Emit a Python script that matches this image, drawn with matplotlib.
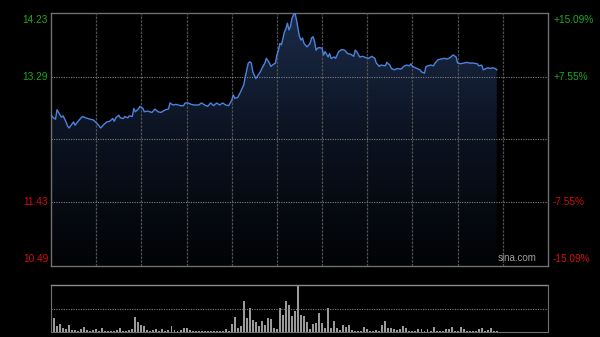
import numpy as np
import matplotlib.pyplot as plt
import matplotlib.transforms as mtransforms
from matplotlib.colors import LinearSegmentedColormap

# intraday price, minutes since 9:30 (HK session, 330 min incl. lunch slot)
minutes = [0, 1, 3, 4, 6, 7, 8, 10, 11, 12,
           14, 15, 16, 18, 20, 21, 23, 26, 28, 30,
           32, 33, 35, 37, 39, 41, 42, 43, 45, 46,
           48, 49, 51, 52, 54, 55, 56, 58, 59, 61,
           62, 64, 67, 69, 71, 73, 76, 78, 79, 81,
           83, 86, 88, 89, 91, 93, 95, 98, 100, 102,
           104, 106, 108, 110, 112, 114, 116, 118, 120, 121,
           122, 124, 126, 128, 129, 130, 131, 132, 133, 134,
           136, 139, 140, 142, 143, 145, 146, 147, 149, 150,
           151, 152, 153, 155, 156, 157, 158, 159, 160, 161,
           162, 163, 164, 165, 166, 167, 168, 170, 172, 173,
           174, 175, 176, 177, 178, 180, 181, 182, 184, 185,
           186, 188, 189, 191, 193, 195, 197, 199, 201, 202,
           203, 205, 207, 209, 211, 213, 215, 216, 218, 219,
           222, 223, 225, 226, 228, 230, 232, 233, 234, 236,
           238, 239, 240, 243, 245, 246, 248, 249, 252, 254,
           255, 257, 259, 261, 263, 265, 267, 269, 270, 272,
           274, 276, 278, 280, 283, 284, 286, 287, 289, 290,
           292, 293, 295, 296]
prices = [12.74, 12.69, 12.66, 12.80, 12.72, 12.69, 12.71, 12.62, 12.56, 12.53,
          12.59, 12.62, 12.57, 12.63, 12.68, 12.70, 12.68, 12.66, 12.65, 12.61,
          12.56, 12.53, 12.58, 12.62, 12.63, 12.67, 12.63, 12.68, 12.72, 12.68,
          12.67, 12.70, 12.68, 12.71, 12.70, 12.82, 12.77, 12.81, 12.85, 12.82,
          12.77, 12.78, 12.76, 12.81, 12.77, 12.76, 12.80, 12.81, 12.90, 12.87,
          12.88, 12.86, 12.86, 12.90, 12.90, 12.88, 12.87, 12.87, 12.90, 12.87,
          12.85, 12.90, 12.86, 12.90, 12.87, 12.90, 12.87, 12.86, 12.94, 13.02,
          12.97, 12.98, 13.07, 13.17, 13.29, 13.39, 13.49, 13.51, 13.49, 13.36,
          13.26, 13.36, 13.41, 13.49, 13.56, 13.49, 13.44, 13.46, 13.49, 13.61,
          13.68, 13.78, 13.76, 13.95, 14.00, 14.08, 13.98, 14.03, 14.15, 14.20,
          14.23, 14.13, 14.00, 13.88, 13.83, 13.86, 13.78, 13.73, 13.78, 13.86,
          13.88, 13.81, 13.68, 13.71, 13.72, 13.71, 13.61, 13.66, 13.58, 13.63,
          13.56, 13.58, 13.56, 13.66, 13.69, 13.68, 13.63, 13.62, 13.59, 13.68,
          13.66, 13.58, 13.59, 13.57, 13.56, 13.59, 13.56, 13.49, 13.44, 13.46,
          13.45, 13.50, 13.46, 13.41, 13.39, 13.41, 13.40, 13.41, 13.44, 13.46,
          13.45, 13.48, 13.44, 13.41, 13.39, 13.36, 13.34, 13.44, 13.46, 13.45,
          13.49, 13.54, 13.55, 13.56, 13.55, 13.57, 13.61, 13.58, 13.49, 13.48,
          13.49, 13.50, 13.49, 13.49, 13.48, 13.45, 13.46, 13.39, 13.41, 13.42,
          13.41, 13.42, 13.41, 13.39]

# volume per 2-minute slot (relative units, 100 = panel top)
volumes = [15, 30, 12, 17, 8, 6, 15, 5, 4, 3,
           6, 10, 5, 3, 4, 6, 3, 8, 3, 2,
           3, 2, 4, 8, 3, 2, 4, 6, 31, 22,
           15, 12, 4, 3, 5, 7, 3, 6, 3, 4,
           12, 5, 3, 4, 8, 8, 4, 3, 2, 3,
           2, 3, 2, 3, 2, 3, 2, 3, 6, 3,
           17, 31, 8, 12, 66, 30, 51, 26, 22, 12,
           24, 15, 30, 28, 8, 6, 51, 37, 65, 58,
           35, 44, 100, 37, 35, 22, 6, 17, 19, 40,
           19, 8, 51, 8, 24, 8, 5, 14, 10, 15,
           5, 3, 3, 3, 11, 7, 3, 3, 5, 3,
           15, 24, 8, 8, 7, 5, 7, 12, 8, 3,
           3, 3, 7, 7, 3, 7, 3, 10, 3, 3,
           3, 7, 7, 10, 3, 3, 10, 7, 3, 3,
           3, 3, 7, 8, 3, 5, 8, 3, 3]
vol_minutes = np.arange(len(volumes)) * 2

prev_close = 12.36
price_ticks = [14.23, 13.29, 12.36, 11.43, 10.49]
pct_labels = ['+15.09%', '+7.55%', '', '-7.55%', '-15.09%']

plt.rcParams['font.family'] = ['Liberation Sans', 'DejaVu Sans']
fig = plt.figure(figsize=(6, 3.37), dpi=100, facecolor='black')
ax = fig.add_axes([51/600, 71/337, 497/600, 253/337], facecolor='black')
axv = fig.add_axes([51/600, 5/337, 497/600, 47/337], facecolor='black')

ymin, ymax = price_ticks[-1], price_ticks[0]
ax.set_xlim(0, 330)
ax.set_ylim(ymin, ymax)

# gradient fill under the price line
fill = ax.fill_between(minutes, prices, ymin, color='none', lw=0)
cmap = LinearSegmentedColormap.from_list('bg', ['#020305', '#0b1220', '#1b2b48'])
grad = np.linspace(0, 1, 256).reshape(-1, 1)
img = ax.imshow(grad, cmap=cmap, origin='lower', aspect='auto',
                extent=[0, 330, ymin, ymax], zorder=1)
img.set_clip_path(fill.get_paths()[0], transform=ax.transData)

ax.plot(minutes, prices, color='#4d82dc', lw=1.0, zorder=4)

# grid
for t in range(30, 330, 30):
    ax.axvline(t, color='#505050', lw=0.9, ls=(0, (2, 1)), zorder=3)
for p in price_ticks[1:-1]:
    ax.axhline(p, color='#808080', lw=0.8, ls=(0, (1, 1.2)), zorder=3)

ax.set_xticks([])
ax.set_yticks([])
for s in ax.spines.values():
    s.set_color('#6e6e6e')
    s.set_linewidth(1)

# price / percent labels
trans = mtransforms.blended_transform_factory(ax.transAxes, ax.transData)
for i, (p, pl) in enumerate(zip(price_ticks, pct_labels)):
    if p == prev_close:
        continue
    col = '#1fa81f' if p > prev_close else '#d01010'
    if i == 0:
        va, dy = 'top', -2
    elif i == len(price_ticks) - 1:
        va, dy = 'bottom', 2
    else:
        va, dy = 'center', 0
    tr = mtransforms.offset_copy(trans, fig=fig, x=0, y=dy, units='dots')
    ax.text(-0.006, p, f'{p:.2f}', color=col, fontsize=7.3, ha='right', va=va,
            transform=tr)
    ax.text(1.010, p, pl, color=col, fontsize=7.3, ha='left', va=va,
            transform=tr)

ax.text(0.978, 0.012, 'sina.com', color='#a0a0a0', fontsize=7, ha='right',
        va='bottom', transform=ax.transAxes, zorder=5)

# volume panel
axv.bar(vol_minutes, volumes, width=1.3, color='#9a9a9a', lw=0)
axv.set_xlim(0, 330)
axv.set_ylim(0, 100)
axv.set_xticks([])
axv.set_yticks([])
axv.axhline(50, color='#808080', lw=0.8, ls=(0, (1, 1.2)))
for side in ['left', 'right', 'bottom']:
    axv.spines[side].set_color('#6e6e6e')
axv.spines['top'].set_color('#8a8a8a')
axv.spines['top'].set_linewidth(1.0)
axv.spines['top'].set_linestyle((0, (1, 1)))

fig.savefig('out.png', dpi=100, facecolor='black')
